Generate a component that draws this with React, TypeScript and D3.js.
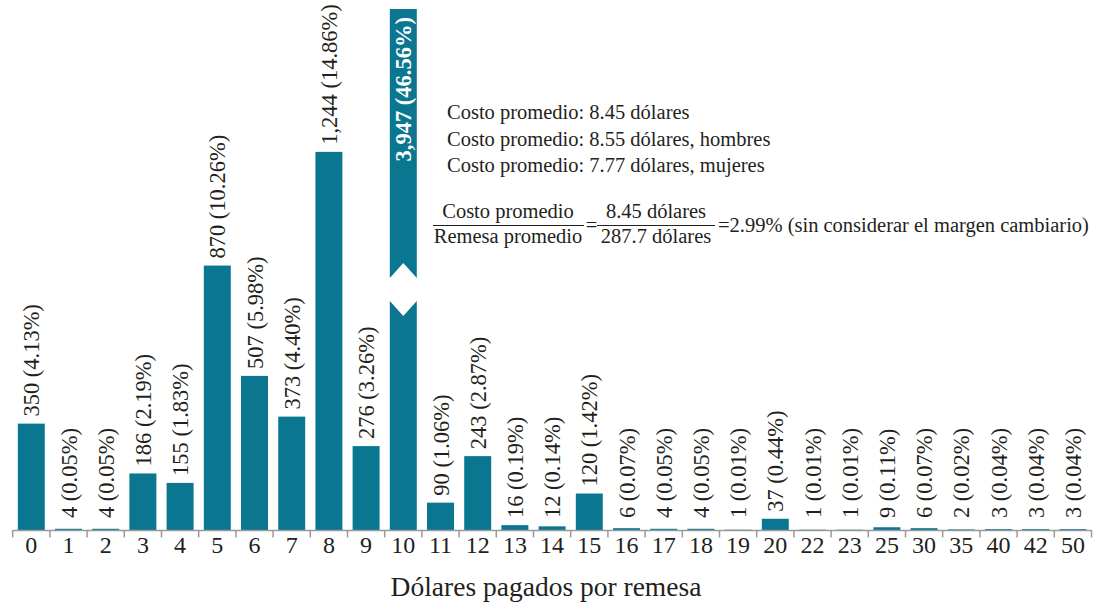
import React from "react";
import * as d3 from "d3";

const categories = ["0","1","2","3","4","5","6","7","8","9","10","11","12","13","14","15","16","17","18","19","20","22","23","25","30","35","40","42","50"];
const counts = [350,4,4,186,155,870,507,373,1244,276,3947,90,243,16,12,120,6,4,4,1,37,1,1,9,6,2,3,3,3];
const percents = [4.13,0.05,0.05,2.19,1.83,10.26,5.98,4.40,14.86,3.26,46.56,1.06,2.87,0.19,0.14,1.42,0.07,0.05,0.05,0.01,0.44,0.01,0.01,0.11,0.07,0.02,0.04,0.04,0.04];
const statLines = [
  "Costo promedio: 8.45 dólares",
  "Costo promedio: 8.55 dólares, hombres",
  "Costo promedio: 7.77 dólares, mujeres",
];
const fracLeft = ["Costo promedio", "Remesa promedio"];
const fracRight = ["8.45 dólares", "287.7 dólares"];
const fracResult = "2.99% (sin considerar el margen cambiario)";
const xTitle = "Dólares pagados por remesa";

// broken bar: values shown above the cap are compressed; break drawn between these values
const yCap = 1714;
const breakLow = 753;
const breakHigh = 829;

const W = 1095, H = 608;
const TEAL = "#0a7690";
const TEXT = "#231f20";
const FONT = '"Liberation Serif", "DejaVu Serif", serif';

export default function App() {
  const x = d3.scaleBand<string>().domain(categories).range([12.7, 1091.5]).paddingInner(0.275).paddingOuter(0.1375);
  const y = d3.scaleLinear().domain([0, yCap]).range([530, 9]);
  const bw = x.bandwidth();
  const step = x.step();
  const fmt = d3.format(",");
  const x0 = 12.7;
  const notch = 15;

  return (
    <svg width={W} height={H} style={{ position: "absolute", left: 0, top: 0, display: "block", fontFamily: FONT }}>
      <rect width={W} height={H} fill="#fff" />
      {categories.map((c, i) => {
        const v = counts[i];
        const bx = x(c)!;
        const cx = bx + bw / 2;
        if (v > yCap) {
          const top = y(yCap);
          const lo = y(breakLow);
          const hi = y(breakHigh);
          const upper = `M${bx},${top}H${bx + bw}V${hi}L${cx},${hi - notch}L${bx},${hi}Z`;
          const lower = `M${bx},${lo}L${cx},${lo + notch}L${bx + bw},${lo}V${y(0)}H${bx}Z`;
          const label = `${fmt(v)} (${percents[i].toFixed(2)}%)`;
          return (
            <g key={c}>
              <path d={upper} fill={TEAL} />
              <path d={lower} fill={TEAL} />
              <text transform={`translate(${cx},${top + 8}) rotate(-90)`} textAnchor="end" dominantBaseline="central" fill="#fff" fontWeight="bold" fontSize={22.5}>{label}</text>
            </g>
          );
        }
        const ty = Math.min(y(v) - 7, 518);
        return (
          <g key={c}>
            <rect x={bx} y={y(v)} width={bw} height={y(0) - y(v)} fill={TEAL} />
            <text transform={`translate(${cx + 0.5},${ty}) rotate(-90)`} textAnchor="start" dominantBaseline="central" fill={TEXT} fontSize={22.5}>{`${fmt(v)} (${percents[i].toFixed(2)}%)`}</text>
          </g>
        );
      })}
      {/* axis */}
      <line x1={x0} x2={1091.5} y1={530.5} y2={530.5} stroke="#9a9a9a" strokeWidth={1.5} />
      {d3.range(categories.length + 1).map((k) => (
        <line key={k} x1={x0 + k * step} x2={x0 + k * step} y1={530} y2={537.5} stroke="#9a9a9a" strokeWidth={1.5} />
      ))}
      {categories.map((c) => (
        <text key={c} x={x(c)! + bw / 2} y={553} textAnchor="middle" fill={TEXT} fontSize={24}>{c}</text>
      ))}
      <text x={546} y={596} textAnchor="middle" fill={TEXT} fontSize={27.5}>{xTitle}</text>
      {/* annotations */}
      {statLines.map((s, i) => (
        <text key={i} x={447} y={119 + i * 26.5} fill={TEXT} fontSize={20.5}>{s}</text>
      ))}
      <text x={508} y={218} textAnchor="middle" fill={TEXT} fontSize={20.5}>{fracLeft[0]}</text>
      <line x1={433} x2={584} y1={225.5} y2={225.5} stroke={TEXT} strokeWidth={1} />
      <text x={508} y={243} textAnchor="middle" fill={TEXT} fontSize={20.5}>{fracLeft[1]}</text>
      <text x={591.5} y={232} textAnchor="middle" fill={TEXT} fontSize={20.5}>=</text>
      <text x={656} y={218} textAnchor="middle" fill={TEXT} fontSize={20.5}>{fracRight[0]}</text>
      <line x1={597} x2={715} y1={225.5} y2={225.5} stroke={TEXT} strokeWidth={1} />
      <text x={656} y={243} textAnchor="middle" fill={TEXT} fontSize={20.5}>{fracRight[1]}</text>
      <text x={718} y={232} fill={TEXT} fontSize={20.5}>{"=" + fracResult}</text>
    </svg>
  );
}
